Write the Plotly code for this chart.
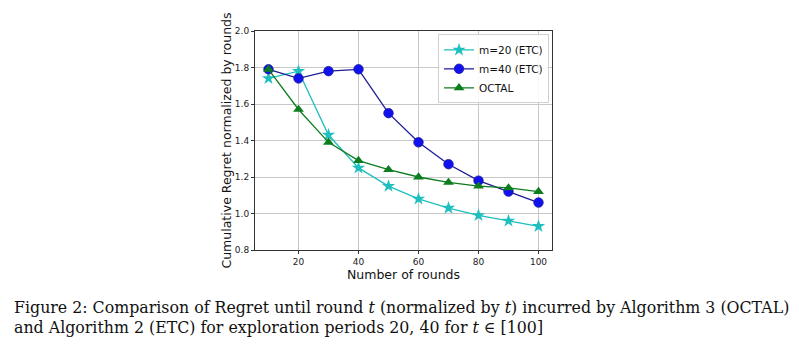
import plotly.graph_objects as go

rounds = [10, 20, 30, 40, 50, 60, 70, 80, 90, 100]
etc_m20 = [1.74, 1.78, 1.43, 1.25, 1.15, 1.08, 1.03, 0.99, 0.96, 0.93]
etc_m40 = [1.79, 1.74, 1.78, 1.79, 1.55, 1.39, 1.27, 1.18, 1.12, 1.06]
octal = [1.79, 1.57, 1.39, 1.29, 1.24, 1.20, 1.17, 1.15, 1.14, 1.12]

x_ticks = [20, 40, 60, 80, 100]
y_ticks = [0.8, 1.0, 1.2, 1.4, 1.6, 1.8, 2.0]

caption_lines = [
    "Figure 2: Comparison of Regret until round <i>t</i> (normalized by <i>t</i>) incurred by Algorithm 3 (OCTAL)",
    "and Algorithm 2 (ETC) for exploration periods 20, 40 for <i>t</i> ∈ [100]",
]

fig = go.Figure()
fig.add_trace(go.Scatter(
    x=rounds, y=etc_m20, name="m=20 (ETC)", mode="lines+markers",
    line=dict(color="#1fbfbf", width=1.3),
    marker=dict(symbol="star", size=10, color="#1fbfbf"),
))
fig.add_trace(go.Scatter(
    x=rounds, y=etc_m40, name="m=40 (ETC)", mode="lines+markers",
    line=dict(color="#1c1c96", width=1.3),
    marker=dict(symbol="circle", size=9.5, color="#1010f0",
                line=dict(color="#1c1c96", width=0.8)),
))
fig.add_trace(go.Scatter(
    x=rounds, y=octal, name="OCTAL", mode="lines+markers",
    line=dict(color="#0b7d1f", width=1.3),
    marker=dict(symbol="triangle-up", size=9.5, color="#0b7d1f"),
))

axis_common = dict(
    showline=True, linecolor="#333333", linewidth=1, mirror=True,
    showgrid=True, gridcolor="#c8c8c8", gridwidth=1,
    ticks="outside", ticklen=3, tickcolor="#333333",
    tickfont=dict(family="DejaVu Sans", size=9, color="#222222"),
    zeroline=False,
)

fig.update_xaxes(
    range=[5.5, 104.5], tickvals=x_ticks,
    title=dict(text="Number of rounds", font=dict(family="DejaVu Sans", size=12.5, color="#111111"), standoff=4),
    **axis_common,
)
fig.update_yaxes(
    range=[0.8, 2.0], tickvals=y_ticks, tickformat=".1f",
    title=dict(text="Cumulative Regret normalized by rounds", font=dict(family="DejaVu Sans", size=12.5, color="#111111"), standoff=0),
    **axis_common,
)

for i, line in enumerate(caption_lines):
    fig.add_annotation(
        text=line, xref="paper", yref="paper",
        x=-243 / 297, y=-(307 + 20 * i - 250) / 219,
        xanchor="left", yanchor="middle", showarrow=False,
        font=dict(family="DejaVu Serif", size=15.8, color="#111111"),
    )

fig.update_layout(
    width=799, height=349,
    margin=dict(l=255, r=247, t=31, b=99),
    paper_bgcolor="white", plot_bgcolor="white",
    legend=dict(
        x=0.99, y=0.985, xanchor="right", yanchor="top",
        bgcolor="rgba(255,255,255,0.85)", bordercolor="#d0d0d0", borderwidth=1,
        font=dict(family="DejaVu Sans", size=10.5, color="#111111"),
        itemwidth=30, tracegroupgap=0,
    ),
    showlegend=True,
)

fig.write_html("out.html")
